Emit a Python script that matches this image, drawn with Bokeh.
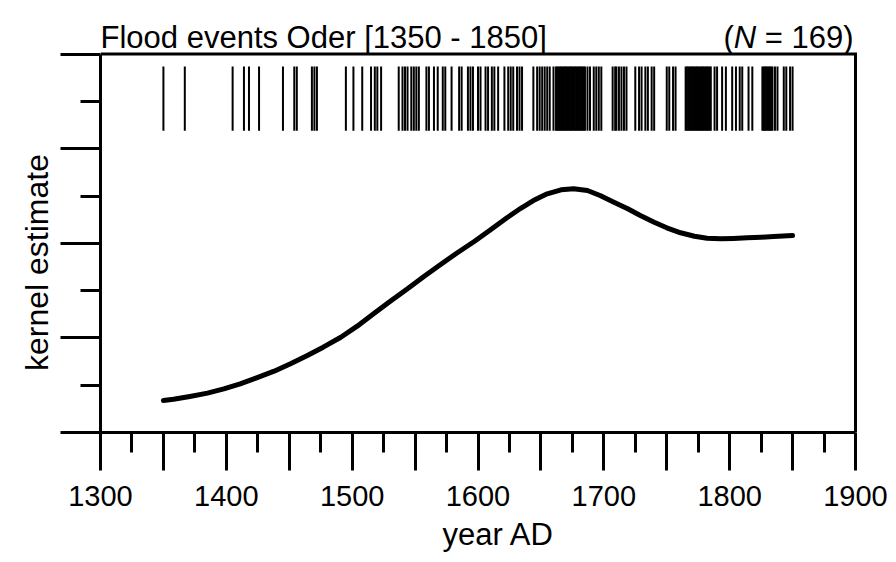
from bokeh.plotting import figure
from bokeh.models import Range1d, LinearAxis, FixedTicker, Label, ColumnDataSource, Title
from bokeh.embed import file_html
from bokeh.resources import INLINE

# ---- data ----
flood_years = [
    1350, 1367, 1405, 1414, 1418, 1426, 1445, 1454, 1456, 1468, 1470, 1472,
    1495, 1501, 1508, 1515, 1518, 1520, 1523, 1537, 1540, 1542, 1544, 1547, 1549,
    1551, 1553, 1559, 1561, 1565, 1568, 1572, 1574, 1579, 1585, 1587, 1592, 1594,
    1596, 1600, 1602,
    1606, 1608, 1611, 1613, 1616, 1621, 1624, 1626, 1628, 1631, 1633, 1635,
    1644, 1647, 1649, 1651, 1653, 1655, 1657, 1660,
    1662, 1663, 1664, 1665, 1666, 1667, 1668, 1669, 1670, 1671, 1672, 1673,
    1674, 1675, 1676, 1677, 1678, 1679, 1680, 1681, 1682, 1683, 1684, 1685,
    1687, 1689, 1692, 1694, 1696, 1698,
    1707, 1709, 1710, 1712, 1714, 1716, 1718, 1725, 1728,
    1730, 1733, 1735, 1738, 1740, 1750, 1752, 1755, 1757,
    1765, 1766, 1767, 1768, 1769, 1770, 1771, 1772, 1773, 1774, 1775, 1776,
    1777, 1778, 1779, 1780, 1781, 1782, 1783, 1784, 1785,
    1788, 1790, 1794, 1797, 1802, 1805, 1808, 1810, 1815, 1818,
    1826, 1827, 1828, 1829, 1830, 1831, 1832, 1833, 1834,
    1836, 1838, 1843, 1845, 1848, 1850,
]

kde_years = [1350, 1358, 1371, 1385, 1398, 1411, 1424, 1438, 1451, 1464, 1477,
             1491, 1504, 1517, 1530, 1544, 1557, 1570, 1583, 1597, 1610, 1623,
             1634, 1644, 1655, 1666, 1676, 1687, 1697, 1708, 1719, 1729, 1740,
             1750, 1761, 1772, 1782, 1793, 1803, 1814, 1825, 1835, 1850]
kde_values = [0.000338, 0.000352, 0.000381, 0.000416, 0.000462, 0.000515,
              0.000578, 0.000648, 0.000726, 0.000811, 0.000902, 0.001007,
              0.001124, 0.001255, 0.001385, 0.001519, 0.001649, 0.001773,
              0.001895, 0.002019, 0.002143, 0.002270, 0.002370, 0.002452,
              0.002523, 0.002565, 0.002576, 0.002558, 0.002505, 0.002435,
              0.002365, 0.002294, 0.002223, 0.002164, 0.002111, 0.002075,
              0.002054, 0.002047, 0.002051, 0.002058, 0.002064, 0.002072,
              0.002082]

x_major_ticks = [1300, 1350, 1400, 1450, 1500, 1550, 1600, 1650, 1700, 1750, 1800, 1850, 1900]
x_minor_ticks = [1325, 1375, 1425, 1475, 1525, 1575, 1625, 1675, 1725, 1775, 1825, 1875]
x_tick_labels = {1300: "1300", 1350: "", 1400: "1400", 1450: "", 1500: "1500", 1550: "",
                 1600: "1600", 1650: "", 1700: "1700", 1750: "", 1800: "1800", 1850: "",
                 1900: "1900"}
y_major_ticks = [0, 0.001, 0.002, 0.003, 0.004]
y_minor_ticks = [0.0005, 0.0015, 0.0025, 0.0035]

title_text = "Flood events Oder [1350 - 1850]"
n_text = "169"
x_label = "year AD"
y_label = "kernel estimate"

FONT = "Liberation Sans"

X0, X1 = 1300, 1900
Y0, Y1 = 0.0, 0.004
px_per_year = 755 / 600.0
px_per_unit = 378.4 / 0.004
x_end = X0 + 796 / px_per_year
y_end = 432 / px_per_unit

p = figure(width=896, height=562, output_backend="svg", toolbar_location=None,
           x_range=Range1d(X0, x_end), y_range=Range1d(Y0, y_end),
           x_axis_location=None, y_axis_location=None,
           min_border_left=100, min_border_right=0, min_border_top=0,
           min_border_bottom=130)
p.background_fill_color = "white"
p.border_fill_color = "white"
p.outline_line_color = None
for g in p.grid:
    g.visible = False

xa = LinearAxis(ticker=FixedTicker(ticks=x_major_ticks, minor_ticks=x_minor_ticks),
                bounds=(X0, X1))
xa.major_label_overrides = x_tick_labels
xa.axis_label = x_label
xa.axis_line_width = 3
xa.major_tick_line_width = 3
xa.minor_tick_line_width = 3
xa.major_tick_out = 38
xa.major_tick_in = 0
xa.minor_tick_out = 20
xa.minor_tick_in = 0
xa.major_label_standoff = 15
xa.major_label_text_font = FONT
xa.major_label_text_font_size = "29px"
xa.major_label_text_color = "black"
xa.axis_label_text_font = FONT
xa.axis_label_text_font_size = "31px"
xa.axis_label_text_font_style = "normal"
xa.axis_label_text_color = "black"
xa.axis_label_standoff = 8
p.add_layout(xa, "below")

ya = LinearAxis(ticker=FixedTicker(ticks=y_major_ticks, minor_ticks=y_minor_ticks),
                bounds=(Y0, Y1))
ya.major_label_overrides = {t: "" for t in y_major_ticks}
ya.axis_line_width = 3
ya.major_tick_line_width = 3
ya.minor_tick_line_width = 3
ya.major_tick_out = 40
ya.major_tick_in = 0
ya.minor_tick_out = 20
ya.minor_tick_in = 0
ya.major_label_standoff = 0
p.add_layout(ya, "left")

YS = 32
ytitle = Title(text=y_label, align="left", offset=432 - 262 - 6.78 * YS / 2,
               text_font=FONT, text_font_size=f"{YS}px", text_font_style="normal",
               text_color="black", standoff=11)
p.add_layout(ytitle, "left")

# top and right edges of the box
p.line([X0, X1, X1], [Y1, Y1, Y0], line_color="black", line_width=3,
       line_join="miter")

rug = ColumnDataSource(dict(x=flood_years))
p.segment(x0="x", x1="x", y0=0.00319, y1=0.00387, source=rug,
          line_color="black", line_width=2)

p.line(kde_years, kde_values, line_color="black", line_width=5,
       line_cap="round", line_join="round")

TS = 31
ty = 0.004175
p.add_layout(Label(x=X0, y=ty, text=title_text, text_font=FONT,
                   text_font_size=f"{TS}px", text_baseline="alphabetic",
                   text_align="left", text_color="black"))
w_rest = 2.863 * TS
w_sp = 0.278 * TS
w_n = 0.722 * TS
p.add_layout(Label(x=X1, y=ty, x_offset=-2, text="= " + n_text + ")", text_font=FONT,
                   text_font_size=f"{TS}px", text_baseline="alphabetic",
                   text_align="right", text_color="black"))
p.add_layout(Label(x=X1, y=ty, x_offset=-2 - w_rest - w_sp, text="N", text_font=FONT,
                   text_font_size=f"{TS}px", text_font_style="italic",
                   text_baseline="alphabetic", text_align="right", text_color="black"))
p.add_layout(Label(x=X1, y=ty, x_offset=-2 - w_rest - w_sp - w_n, text="(",
                   text_font=FONT, text_font_size=f"{TS}px",
                   text_baseline="alphabetic", text_align="right", text_color="black"))

open("out.html", "w").write(file_html(p, INLINE))
